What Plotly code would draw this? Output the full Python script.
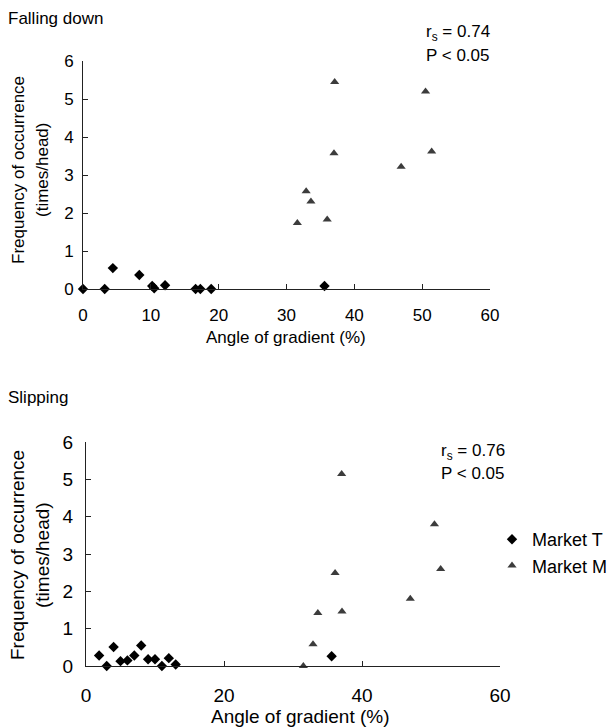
import plotly.graph_objects as go

# Falling down
fall_T_x = [0, 3.2, 4.4, 8.3, 10.2, 10.5, 12.1, 16.6, 17.3, 18.9, 35.6]
fall_T_y = [0, 0, 0.55, 0.37, 0.08, 0.02, 0.1, 0, 0, 0, 0.08]
fall_M_x = [37.1, 50.5, 37.0, 51.4, 46.9, 32.9, 33.6, 36.0, 31.6]
fall_M_y = [5.45, 5.2, 3.57, 3.62, 3.22, 2.57, 2.3, 1.83, 1.74]

# Slipping
slip_T_x = [1.9, 3.0, 4.0, 5.0, 6.0, 7.0, 8.0, 9.0, 10.0, 11.0, 12.0, 13.0, 35.6]
slip_T_y = [0.28, 0, 0.51, 0.13, 0.15, 0.28, 0.55, 0.18, 0.18, 0, 0.21, 0.04, 0.26]
slip_M_x = [37.05, 50.5, 51.4, 36.1, 47.0, 33.6, 37.1, 32.9, 31.5]
slip_M_y = [5.14, 3.8, 2.6, 2.49, 1.8, 1.42, 1.46, 0.58, 0]

series_names = ["Market T", "Market M"]
panel_titles = ["Falling down", "Slipping"]
stats = [("0.74", "0.05"), ("0.76", "0.05")]
x_title = "Angle of gradient (%)"
y_title = ["Frequency of occurrence", "(times/head)"]

# the page body adds an 8px margin, so the figure is drawn 8px smaller
OFF = 8
W, H = 615 - OFF, 727 - OFF
FONT = "Liberation Sans, Arial, sans-serif"
T_COL = "#000000"
M_COL = "#3c3c3c"

fig = go.Figure()

def px_x(p):
    return (p - OFF) / W

def px_y(p):
    return 1 - (p - OFF) / H

fig.add_trace(go.Scatter(x=fall_T_x, y=fall_T_y, mode="markers", name=series_names[0],
                         marker=dict(symbol="diamond", size=8, color=T_COL),
                         cliponaxis=False, showlegend=False, xaxis="x", yaxis="y"))
fig.add_trace(go.Scatter(x=fall_M_x, y=fall_M_y, mode="markers", name=series_names[1],
                         marker=dict(symbol="triangle-up", size=8, color=M_COL),
                         cliponaxis=False, showlegend=False, xaxis="x", yaxis="y"))
fig.add_trace(go.Scatter(x=slip_T_x, y=slip_T_y, mode="markers", name=series_names[0],
                         marker=dict(symbol="diamond", size=8, color=T_COL),
                         cliponaxis=False, xaxis="x2", yaxis="y2"))
fig.add_trace(go.Scatter(x=slip_M_x, y=slip_M_y, mode="markers", name=series_names[1],
                         marker=dict(symbol="triangle-up", size=8, color=M_COL),
                         cliponaxis=False, xaxis="x2", yaxis="y2"))

def ax(size, standoff, **kw):
    d = dict(showgrid=False, zeroline=False, showline=True, linecolor="#222",
             linewidth=1, ticks="inside", ticklen=5, tickcolor="#222", automargin=False,
             tickfont=dict(size=size, family=FONT, color="#000"), ticklabelstandoff=standoff)
    d.update(kw)
    return d

fig.update_layout(
    width=W, height=H, margin=dict(l=0, r=0, t=0, b=0, autoexpand=False),
    paper_bgcolor="white", plot_bgcolor="white",
    font=dict(family=FONT, color="#000"),
    xaxis=ax(17, 11, domain=[px_x(83), px_x(490)], range=[0, 60], dtick=10, anchor="y"),
    yaxis=ax(17, 5, domain=[px_y(289), px_y(61)], range=[0, 6], dtick=1, anchor="x"),
    xaxis2=ax(19, 12, domain=[px_x(86), px_x(500)], range=[0, 60], dtick=20, anchor="y2"),
    yaxis2=ax(19, 8, domain=[px_y(666), px_y(442)], range=[0, 6], dtick=1, anchor="x2"),
    legend=dict(x=px_x(492), y=px_y(521), xanchor="left", yanchor="top",
                font=dict(size=18, family=FONT, color="#000"), itemwidth=30,
                bgcolor="rgba(0,0,0,0)"),
)

def txt(text, x, y, size, xanchor="left", yanchor="middle", angle=0, align="left"):
    return dict(text=text, x=px_x(x), y=px_y(y), xref="paper", yref="paper",
                xanchor=xanchor, yanchor=yanchor, showarrow=False, textangle=angle,
                align=align, font=dict(size=size, family=FONT, color="#000"))

annotations = [
    txt(panel_titles[0], 6, 18, 17),
    txt(panel_titles[1], 6, 398, 17),
    txt("r<sub>s</sub> = " + stats[0][0], 424, 33, 17),
    txt("P < " + stats[0][1], 424, 55, 17),
    txt("r<sub>s</sub> = " + stats[1][0], 439, 452, 17),
    txt("P < " + stats[1][1], 439, 473, 17),
    txt(x_title, 286, 338, 17, xanchor="center"),
    txt(x_title, 300, 716, 19, xanchor="center"),
    txt(y_title[0], 18, 170, 17, xanchor="center", angle=-90),
    txt(y_title[1], 42, 170, 17, xanchor="center", angle=-90),
    txt(y_title[0], 17, 555, 19, xanchor="center", angle=-90),
    txt(y_title[1], 42, 555, 19, xanchor="center", angle=-90),
]
fig.update_layout(annotations=annotations)

fig.write_html("out.html")
